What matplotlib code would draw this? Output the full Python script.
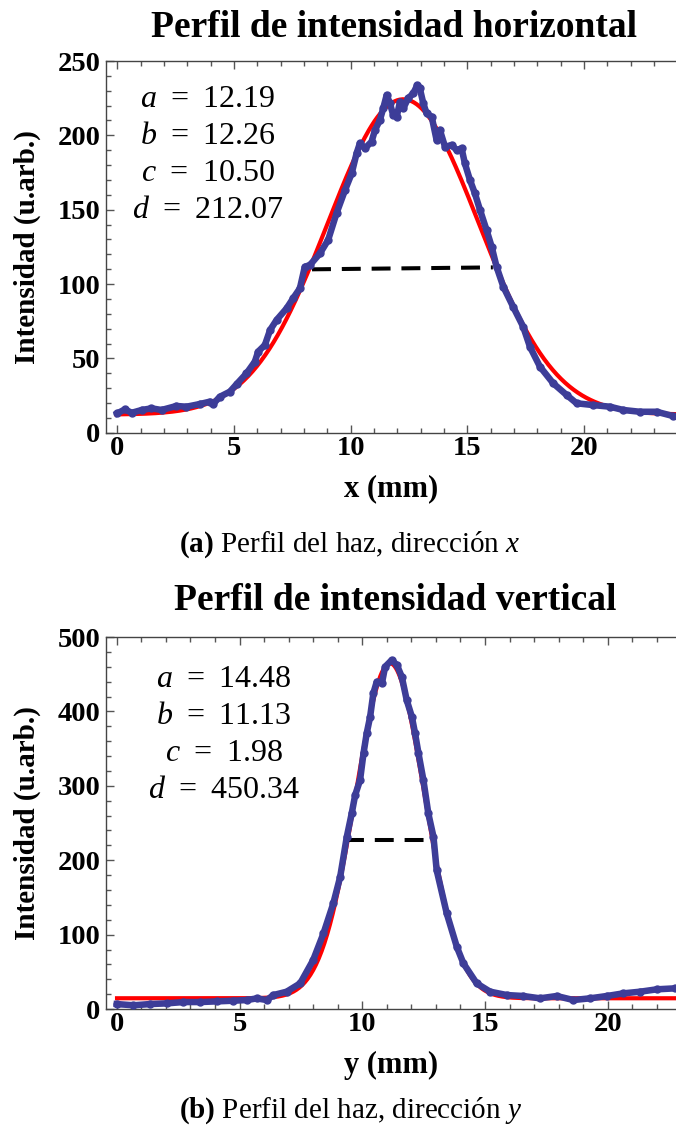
import numpy as np
import matplotlib
matplotlib.use('Agg')
import matplotlib.pyplot as plt
from matplotlib.ticker import MultipleLocator

plt.rcParams['font.family'] = ['Liberation Serif', 'DejaVu Serif']
plt.rcParams['font.weight'] = 'bold'
plt.rcParams['mathtext.fontset'] = 'custom'
plt.rcParams['mathtext.rm'] = 'Liberation Serif:weight=normal'
plt.rcParams['mathtext.it'] = 'Liberation Serif:style=italic:weight=normal'
plt.rcParams['mathtext.bf'] = 'Liberation Serif:weight=bold'

# ---- perfil horizontal ----
xh = [0.0, 0.33, 0.62, 1.05, 1.47, 1.9, 2.54, 2.97, 3.54, 3.97, 4.11, 4.4, 4.83,
      5.12, 5.54, 5.9, 6.04, 6.33, 6.55, 6.83, 7.26, 7.54, 7.83, 8.04, 8.26, 8.69,
      9.04, 9.4, 9.76, 10.05, 10.26, 10.4, 10.62, 10.9, 11.05, 11.26, 11.4, 11.55,
      11.69, 11.83, 11.98, 12.12, 12.26, 12.47, 12.69, 12.86, 12.97, 13.12, 13.26,
      13.48, 13.69, 13.83, 14.05, 14.33, 14.55, 14.76, 14.9, 15.12, 15.33, 15.55,
      15.83, 16.05, 16.26, 16.55, 16.97, 17.4, 17.69, 18.12, 18.69, 19.26, 19.69,
      20.4, 21.12, 21.69, 22.4, 23.12, 23.83]
yh = [13.0, 15.7, 13.4, 15.3, 16.4, 15.3, 18.0, 17.5, 19.3, 20.9, 19.3, 24.2, 27.6,
      32.7, 39.9, 47.8, 54.5, 59.0, 69.0, 75.8, 83.6, 90.4, 97.1, 111.6, 112.8, 120.6,
      129.6, 147.6, 163.0, 174.4, 187.9, 194.6, 191.3, 195.7, 203.6, 210.3, 218.1, 227.1,
      221.5, 213.6, 212.5, 222.6, 218.1, 224.9, 228.2, 233.8, 231.6, 221.5, 214.8,
      212.5, 196.8, 203.6, 192.3, 193.5, 190.1, 191.3, 181.2, 169.9, 161.0, 149.8,
      136.3, 125.1, 111.6, 98.2, 84.7, 71.3, 57.8, 44.4, 33.2, 25.4, 19.8,
      18.6, 17.5, 15.3, 14.1, 14.1, 11.2]
par_h = [12.19, 12.26, 10.50, 212.07]   # a, b, c, d
ancho_xh = [8.35, 16.1]
ancho_yh = [109.9, 111.2]

# ---- perfil vertical ----
xv = [0.0, 0.68, 1.36, 2.04, 2.71, 3.39, 4.07, 4.75, 5.3, 5.7, 6.11, 6.38, 6.92,
      7.47, 8.0, 8.42, 8.82, 9.1, 9.37, 9.57, 9.71, 9.91, 10.05, 10.18, 10.32, 10.45,
      10.59, 10.8, 10.93, 11.2, 11.41, 11.61, 11.81, 12.02, 12.15, 12.29, 12.49,
      12.69, 12.9, 13.03, 13.44, 13.85, 14.12, 14.66, 15.21, 15.89, 16.56, 17.24,
      17.92, 18.6, 19.28, 19.96, 20.64, 21.32, 22.0, 22.74]
yv = [6.7, 5.0, 6.7, 7.6, 9.4, 9.4, 10.3, 11.2, 12.1, 14.3, 12.1, 18.8, 23.3,
      34.5, 65.9, 101.7, 142.0, 177.8, 231.6, 263.0, 287.6, 307.8, 343.7, 370.6, 392.9, 424.3,
      440.0, 437.8, 460.1, 469.1, 462.4, 446.6, 415.3, 392.9, 370.6, 343.7, 307.8,
      263.0, 231.6, 186.8, 128.6, 83.7, 61.4, 34.5, 23.3, 18.8, 17.5, 14.4,
      17.5, 12.1, 14.4, 17.5, 21.1, 23.3, 26.5, 27.8]
par_v = [14.48, 11.13, 1.98, 450.34]
ancho_xv = [9.3, 12.68]
ancho_yv = [227.0, 227.0]

azul = '#3d3d98'
rojo = '#ff0000'


def ajuste(x, a, b, c, d):
    return a + d * np.exp(-(x - b) ** 2 / (2 * c))


def panel(ax, x, y, par, fx, fy, xlim, ylim, ystep, xlab, tx, ty):
    xs = np.linspace(xlim[0] + 0.45, xlim[1], 400)
    ax.plot(xs, ajuste(xs, *par), color=rojo, lw=3, zorder=2)
    ax.plot(fx, fy, color='black', lw=2.9, dashes=(4.7, 2.7), zorder=3)
    ax.plot(x, y, color=azul, lw=4.7, marker='o', ms=5, zorder=4)
    ax.set_xlim(xlim)
    ax.set_ylim(ylim)
    ax.xaxis.set_major_locator(MultipleLocator(5))
    ax.xaxis.set_minor_locator(MultipleLocator(1))
    ax.yaxis.set_major_locator(MultipleLocator(ystep))
    ax.yaxis.set_minor_locator(MultipleLocator(ystep / 5))
    ax.tick_params(which='both', direction='in', top=True, right=False,
                   color='#555555', width=1, labelsize=20.5)
    ax.tick_params(which='major', length=6)
    ax.tick_params(which='minor', length=3.5)
    ax.tick_params(axis='x', pad=2)
    ax.tick_params(axis='y', pad=4)
    for s in ['left', 'top', 'bottom']:
        ax.spines[s].set_color('#444444')
        ax.spines[s].set_linewidth(1)
    ax.spines['right'].set_visible(False)
    ax.set_xlabel(xlab, fontsize=22, fontweight='bold', labelpad=10)
    ax.set_ylabel('Intensidad (u.arb.)', fontsize=21, fontweight='bold',
                  labelpad=12)
    texto = '\n'.join(['$%s$ \u2009= \u2009%s' % (k, v) for k, v in
                       zip('abcd', ['%.2f' % p for p in par])])
    ax.text(tx, ty, texto, transform=ax.transAxes, ha='center', va='top',
            fontsize=23, fontweight='normal', linespacing=1.36)


fig = plt.figure(figsize=(6.76, 11.34), dpi=100)

ax1 = fig.add_axes([0.1568, 0.6184, 0.8432, 0.3278])
panel(ax1, xh, yh, par_h, ancho_xh, ancho_yh, (-0.48, 23.95), (0, 250), 50,
      'x (mm)', 0.179, 0.935)
fig.text(0.583, 0.9674, 'Perfil de intensidad horizontal', ha='center',
         va='baseline', fontsize=27)
fig.text(0.518, 0.5132, r'$\mathbf{(a)}$ Perfil del haz, dirección $x$',
         ha='center', va='baseline', fontsize=21, fontweight='normal')

ax2 = fig.add_axes([0.1568, 0.1102, 0.8432, 0.328])
panel(ax2, xv, yv, par_v, ancho_xv, ancho_yv, (-0.44, 22.78), (0, 500), 100,
      'y (mm)', 0.207, 0.925)
fig.text(0.585, 0.4621, 'Perfil de intensidad vertical', ha='center',
         va='baseline', fontsize=27)
fig.text(0.518, 0.0141, r'$\mathbf{(b)}$ Perfil del haz, dirección $y$',
         ha='center', va='baseline', fontsize=21, fontweight='normal')

fig.savefig('out.png', dpi=100)
